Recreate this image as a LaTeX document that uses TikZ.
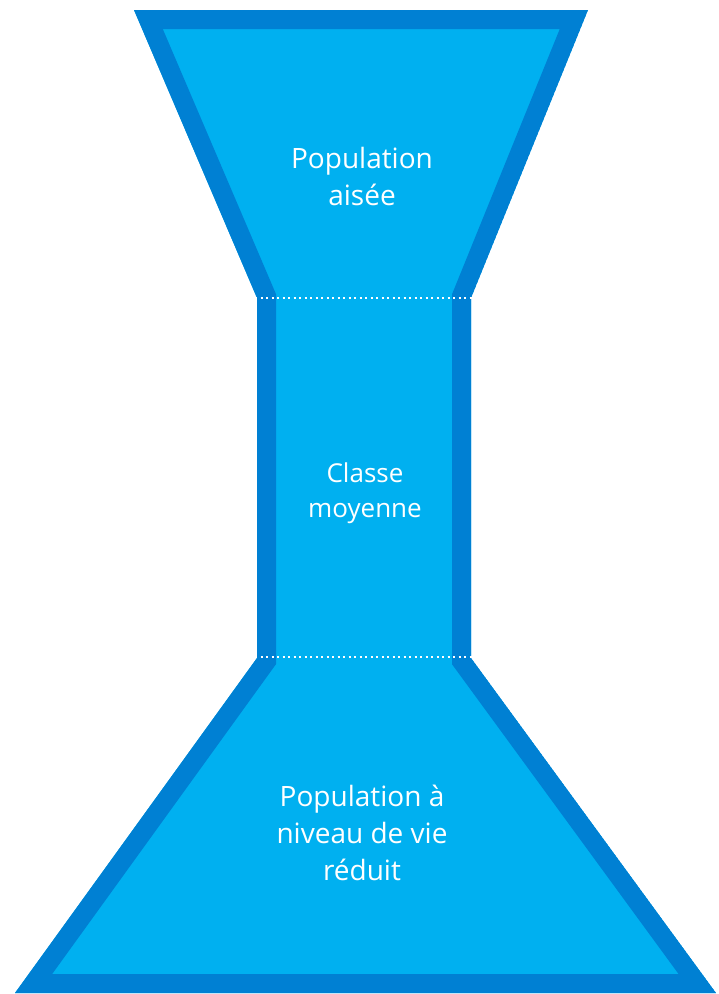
\documentclass[tikz,border=0pt]{standalone}
\usepackage{fontspec}
\setmainfont{Open Sans}
\definecolor{borderblue}{RGB}{0,128,211}
\definecolor{fillblue}{RGB}{0,176,240}
\begin{document}
\begin{tikzpicture}[x=1pt,y=-1pt,
  txt/.style={text=white, align=center, inner sep=0pt},
  bigtxt/.style={txt, font=\fontsize{28}{37}\selectfont},
  midtxt/.style={txt, font=\fontsize{26}{35}\selectfont},
  dotline/.style={white, line width=2.6pt, dash pattern=on 2.4pt off 3.1pt}]
\useasboundingbox (0,0) rectangle (719,994);
% hourglass shape: fill and inner border
\begin{scope}
  \clip (134,10) -- (588,10) -- (471,298) -- (471,658) -- (716,993) -- (15,993) -- (257,658) -- (257,298) -- cycle;
  \fill[fillblue] (134,10) -- (588,10) -- (471,298) -- (471,658) -- (716,993) -- (15,993) -- (257,658) -- (257,298) -- cycle;
  \draw[borderblue, line width=38pt, line join=miter] (134,10) -- (588,10) -- (471,298) -- (471,658) -- (716,993) -- (15,993) -- (257,658) -- (257,298) -- cycle;
\end{scope}
% separators
\coordinate (s1l) at (255,298);
\coordinate (s1r) at (472,298);
\coordinate (s2l) at (255,657);
\coordinate (s2r) at (472,657);
\draw[dotline] (s1l) -- (s1r);
\draw[dotline] (s2l) -- (s2r);
% labels
\node[bigtxt] (top) at (362,176) {Population\\aisée};
\node[midtxt] (mid) at (365,493) {Classe\\moyenne};
\node[bigtxt] (bot) at (362,833) {Population à\\niveau de vie\\réduit};
\end{tikzpicture}
\end{document}
